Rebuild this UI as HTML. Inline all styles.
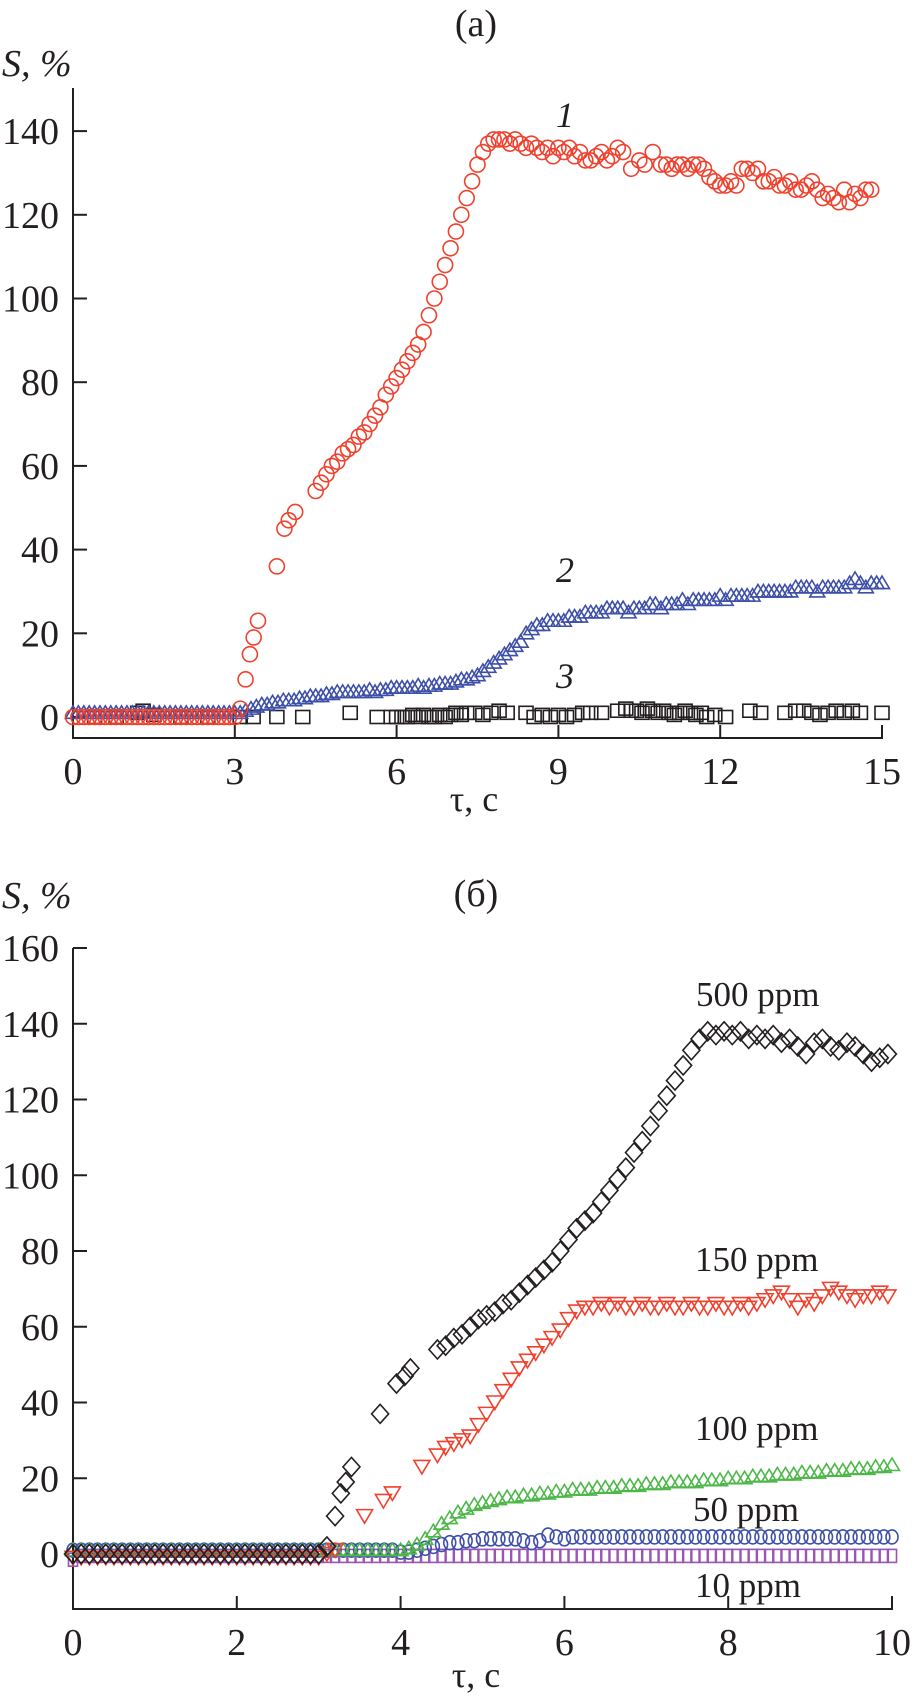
<!DOCTYPE html>
<html><head><meta charset="utf-8"><style>
html,body{margin:0;padding:0;background:#fff;}
svg{display:block;}
text{font-family:"Liberation Serif",serif;fill:#231f20;}
</style></head><body>
<svg id="fig" width="912" height="1698" viewBox="0 0 912 1698" xmlns="http://www.w3.org/2000/svg">
<text x="476" y="36" font-size="38" text-anchor="middle">(a)</text>
<text x="2" y="76" font-size="38" font-style="italic">S, %</text>
<text x="474" y="811" font-size="36" text-anchor="middle">τ, c</text>
<text x="565" y="127" font-size="36" font-style="italic" text-anchor="middle">1</text>
<text x="565" y="582" font-size="36" font-style="italic" text-anchor="middle">2</text>
<text x="565" y="688" font-size="36" font-style="italic" text-anchor="middle">3</text>
<text x="476" y="906" font-size="38" text-anchor="middle">(б)</text>
<text x="2" y="908" font-size="38" font-style="italic">S, %</text>
<text x="476" y="1687" font-size="36" text-anchor="middle">τ, c</text>
<text x="696" y="1006" font-size="35">500 ppm</text>
<text x="695" y="1271" font-size="35">150 ppm</text>
<text x="695" y="1440" font-size="35">100 ppm</text>
<text x="693" y="1521" font-size="35">50 ppm</text>
<text x="695" y="1597" font-size="35">10 ppm</text>
<g id="a"></g><g id="b"></g>
</svg>
<script>
// ---------- Panel (a) data ----------
const aXTicks = [0, 3, 6, 9, 12, 15];
const aYTicks = [0, 20, 40, 60, 80, 100, 120, 140];
const s1x = [0,0.1,0.2,0.3,0.4,0.5,0.6,0.7,0.8,0.9,1.0,1.1,1.2,1.3,1.4,1.5,1.6,1.7,1.8,1.9,2.0,2.1,2.2,2.3,2.4,2.5,2.6,2.7,2.8,2.9,3.0,
3.1,3.2,3.28,3.35,3.43,3.78,3.92,4.0,4.12,4.5,4.6,4.7,4.8,4.9,5.0,5.1,5.2,5.3,5.4,5.5,5.6,5.7,5.8,5.9,6.0,6.1,6.2,6.3,6.4,6.5,6.6,6.7,6.8,6.9,7.0,7.1,7.2,7.3,7.4,7.5,7.6,7.7,7.8,7.9,8.0,8.1,8.2,8.3,8.4,8.5,8.6,8.7,8.8,8.9,9.0,9.1,9.2,9.3,9.4,9.5,9.6,9.7,9.8,9.9,10.0,10.1,10.2,10.35,10.5,10.6,10.75,10.9,11.0,11.1,11.2,11.3,11.4,11.5,11.6,11.7,11.8,11.9,12.0,12.1,12.2,12.3,12.4,12.5,12.6,12.7,12.8,12.9,13.0,13.1,13.2,13.3,13.4,13.5,13.6,13.7,13.8,13.9,14.0,14.1,14.2,14.3,14.4,14.5,14.6,14.7,14.8];
const s1y = [0,0,0,0,0,0,0,0,0,0,0,0,0,0,0,0,0,0,0,0,0,0,0,0,0,0,0,0,0,0,0,
2,9,15,19,23,36,45,47,49,54,56,58,60,61,63,64,65,67,68,70,72,74,77,79,81,83,85,87,89,92,96,100,104,108,112,116,120,124,128,132,135,137,138,138,138,137,138,137,136,137,136,135,136,134,136,135,136,134,135,133,133,134,135,133,134,136,135,131,133,132,135,132,132,131,132,132,131,132,132,131,129,128,127,127,128,127,131,131,130,131,128,128,129,127,127,128,126,126,127,128,126,124,125,124,123,126,123,125,124,126,126];
const s2y = [1,1,1,1,1,1,1,1,1,1,1,1,1,1,1,1,1,1,1,1,1,1,1,1,1,1,1,1,1,1,1,
1,1.5,2,2.5,3,3,3.5,3.5,4,4,
4,4.5,4.5,5,5,5,5.5,5.5,6,6,
6,6,6,6,6.5,6,6.5,6.5,7,7,
7,7,7,7.5,7,7.5,7.5,8,8,8,
8.5,9,9,9.5,10,11,12,13,14,15,
16,17,18,20,21,22,22,23,23,23,
23,24,24,24,25,25,25,25,26,26,
26,26,25,26,26,26,27,27,26,27,
27,27,28,27,28,28,28,28,28,29,
28,29,29,29,29,29,30,30,30,30,
30,30,30,31,31,31,31,30,31,31,
31,31,31,32,33,32,31,32,32,32];
const s3x = [0.4,0.8,1.2,1.3,1.5,2.0,2.5,3.1,3.34,3.78,4.26,5.14,5.64,5.9,6.0,6.1,6.2,6.3,6.4,6.5,6.6,6.7,6.8,6.9,7.0,7.1,7.2,7.3,7.45,7.6,7.75,7.9,8.05,8.4,8.55,8.7,8.85,9.0,9.15,9.3,9.45,9.6,9.8,10.1,10.25,10.35,10.45,10.55,10.65,10.75,10.85,10.95,11.05,11.15,11.25,11.35,11.45,11.55,11.65,11.75,11.9,12.1,12.55,12.75,13.2,13.4,13.55,13.7,13.85,14.0,14.15,14.3,14.45,14.6,15.0];
const s3y = [0,0,1,1.5,0.5,0,0,0,0,0,0,1,0,0,0,0,0,0.5,0,0.5,0,0,0.5,0,0.5,1,0.5,1,1,0.5,1,1.5,1,1,0,0.5,0,0.5,0,0.5,1,1,1,1.5,2,1.5,1.5,1,2,1.5,1,1.5,1,0.5,1,1.5,1,0.5,1,0,0.5,0,1.5,1,1,1.5,1.5,1,0.5,1,1.5,1,1.5,1,1];

// ---------- Panel (b) data ----------
const bXTicks = [0, 2, 4, 6, 8, 10];
const bYTicks = [0, 20, 40, 60, 80, 100, 120, 140, 160];
const p500x = [0,0.1,0.2,0.3,0.4,0.5,0.6,0.7,0.8,0.9,1.0,1.1,1.2,1.3,1.4,1.5,1.6,1.7,1.8,1.9,2.0,2.1,2.2,2.3,2.4,2.5,2.6,2.7,2.8,2.9,3.0,
3.1,3.2,3.27,3.33,3.4,3.75,3.95,4.05,4.12,4.45,4.55,4.65,4.75,4.85,4.95,5.05,5.15,5.25,5.35,5.45,5.55,5.65,5.75,5.85,5.95,6.05,6.15,6.25,6.35,6.45,6.55,6.65,6.75,6.85,6.95,7.05,7.15,7.25,7.35,7.45,7.55,7.65,7.75,7.85,7.95,8.05,8.15,8.25,8.35,8.45,8.55,8.65,8.75,8.85,8.95,9.05,9.15,9.25,9.35,9.45,9.55,9.65,9.75,9.85,9.95];
const p500y = [0,0,0,0,0,0,0,0,0,0,0,0,0,0,0,0,0,0,0,0,0,0,0,0,0,0,0,0,0,0,0,
2,10,16,19,23,37,45,47,49,54,55,57,58,60,62,63,64,66,67,69,71,73,75,77,80,83,86,88,90,93,96,99,102,106,109,113,117,121,125,129,133,136,138,137,138,137,138,136,137,136,137,135,136,134,132,135,136,134,133,135,134,132,130,131,132,134,133];
const p150x = [0,0.1,0.2,0.3,0.4,0.5,0.6,0.7,0.8,0.9,1.0,1.1,1.2,1.3,1.4,1.5,1.6,1.7,1.8,1.9,2.0,2.1,2.2,2.3,2.4,2.5,2.6,2.7,2.8,2.9,3.0,3.1,3.2,
3.56,3.79,3.9,4.26,4.45,4.55,4.65,4.75,4.85,4.95,5.05,5.15,5.25,5.35,5.45,5.55,5.65,5.75,5.85,5.95,6.05,6.15,6.25,6.35,6.45,6.55,6.65,6.75,6.85,6.95,7.05,7.15,7.25,7.35,7.45,7.55,7.65,7.75,7.85,7.95,8.05,8.15,8.25,8.35,8.45,8.55,8.65,8.75,8.85,8.95,9.05,9.15,9.25,9.35,9.45,9.55,9.65,9.75,9.85,9.95];
const p150y = [-1,-1,-1,-1,-1,-1,-1,-1,-1,-1,-1,-1,-1,-1,-1,-1,-1,-1,-1,-1,-1,-1,-1,-1,-1,-1,-1,-1,-1,-1,-1,0,1,
10,14,16,23,26,28,29,30,31,34,37,40,43,46,49,51,53,55,57,59,62,64,65,65,66,65,66,65,65,66,65,65,66,65,65,66,65,65,66,65,65,66,65,66,67,68,69,67,65,67,66,68,70,69,68,67,68,68,69,68];
const p100y = [1,1,1,1,1,1,1,1,1,1,1,1,1,1,1,1,1,1,1,1,1,1,1,1,1,1,1,1,1,1,1,1,1,1,1,1,1,1,1,1,1,
1.5,2.5,4,6,8,9.5,11,12,13,13.5,
14,14.5,15,15,15.5,15.5,16,16,16.5,16.5,
17,17,17,17.5,17.5,17.5,18,18,18,18.5,
18.5,18.5,19,19,19,19,19.5,19.5,19.5,20,
20,20,20.5,20.5,20.5,21,21,21,21.5,21.5,
21.5,22,22,22,22.5,22.5,22.5,23,23,23.5];
const p50y = [1,1,1,1,1,1,1,1,1,1,1,1,1,1,1,1,1,1,1,1,1,1,1,1,1,1,1,1,1,1,1,1,1,1,1,1,1,1,1,1,0.5,
0.5,1,1.5,2,2.5,3,3,3.5,3.5,4,
4,4,4,4,3.5,3,3.5,5,4.5,4,
4.5,4.5,4.5,4.5,4.5,4.5,4.5,4.5,4.5,4.5,
4.5,4.5,4.5,4.5,4.5,4.5,4.5,4.5,4.5,4.5,
4.5,4.5,4.5,4.5,4.5,4.5,4.5,4.5,4.5,4.5,
4.5,4.5,4.5,4.5,4.5,4.5,4.5,4.5,4.5,4.5];
const p10y = [-1.5,-0.5,-0.5,-0.5,-0.5,-0.5,-0.5,-0.5,-0.5,-0.5,-0.5,-0.5,-0.5,-0.5,-0.5,-0.5,-0.5,-0.5,-0.5,-0.5,-0.5,-0.5,-0.5,-0.5,-0.5,-0.5,-0.5,-0.5,-0.5,-0.5,-0.5,-0.5,-0.5,-0.5,-0.5,-0.5,-0.5,-0.5,-0.5,-0.5,-0.5,
-0.5,-0.5,-0.5,-0.5,-0.5,-0.5,-0.5,-0.5,-0.5,-0.5,-0.5,-0.5,-0.5,-0.5,-0.5,-0.5,-0.5,-0.5,-0.5,-0.5,-0.5,-0.5,-0.5,-0.5,-0.5,-0.5,-0.5,-0.5,-0.5,-0.5,
-0.5,-0.5,-0.5,-0.5,-0.5,-0.5,-0.5,-0.5,-0.5,-0.5,-0.5,-0.5,-0.5,-0.5,-0.5,-0.5,-0.5,-0.5,-0.5,-0.5,-0.5,-0.5,-0.5,-0.5,-0.5,-0.5,-0.5,-0.5,-0.5,-0.5];

const NS = 'http://www.w3.org/2000/svg';
function mk(tag, attrs, parent) {
  const e = document.createElementNS(NS, tag);
  for (const k in attrs) e.setAttribute(k, attrs[k]);
  parent.appendChild(e);
  return e;
}
function grid(n, step) { const r = []; for (let i = 0; i < n; i++) r.push(+(i * step).toFixed(2)); return r; }

const axA = { x0: 73, xmax: 15, x1: 882, y0: 717, yPer: 83.7 / 20, axisY: 738, top: 88 };
const axB = { x0: 73, xmax: 10, x1: 892, y0: 1554, yPer: 75.75 / 20, axisY: 1609, top: 948 };
function sx(ax, v) { return ax.x0 + v * (ax.x1 - ax.x0) / ax.xmax; }
function sy(ax, v) { return ax.y0 - v * ax.yPer; }

function drawAxes(ax, g, xt, yt, labelBase, pfx) {
  const yl = mk('line', { x1: ax.x0, y1: ax.top, x2: ax.x0, y2: ax.axisY + 1, stroke: '#231f20', 'stroke-width': 2 }, g);
  
  
  const xl = mk('line', { x1: ax.x0 - 1, y1: ax.axisY, x2: ax.x1 + 1, y2: ax.axisY, stroke: '#231f20', 'stroke-width': 2 }, g);
  
  
  xt.forEach(v => {
    const x = sx(ax, v);
    if (v > 0) {
      const t = mk('line', { x1: x, y1: ax.axisY, x2: x, y2: ax.axisY - 13, stroke: '#231f20', 'stroke-width': 2 }, g);
      
      
    }
    const lb = mk('text', { x: x, y: labelBase, 'font-size': 38, 'text-anchor': 'middle' }, g);
    lb.textContent = v;
    
    
  });
  yt.forEach(v => {
    const y = sy(ax, v);
    const t = mk('line', { x1: ax.x0, y1: y, x2: ax.x0 + 14, y2: y, stroke: '#231f20', 'stroke-width': 2 }, g);
    
    
    const lb = mk('text', { x: 59, y: y + 13, 'font-size': 38, 'text-anchor': 'end' }, g);
    lb.textContent = v;
    
    
  });
}

function marker(shape, x, y, color, g, name) {
  let e;
  const base = { fill: 'none', stroke: color, 'stroke-width': 1.6 };
  if (shape === 'circle') e = mk('circle', Object.assign({ cx: x, cy: y, r: 7.5 }, base), g);
  else if (shape === 'ellipse') e = mk('ellipse', Object.assign({ cx: x, cy: y, rx: 6, ry: 7 }, base), g);
  else if (shape === 'tri') e = mk('polygon', Object.assign({ points: `${x - 7.5},${y + 5.5} ${x + 7.5},${y + 5.5} ${x},${y - 7}` }, base), g);
  else if (shape === 'tridown') e = mk('polygon', Object.assign({ points: `${x - 8},${y - 6.5} ${x + 8},${y - 6.5} ${x},${y + 7}` }, base), g);
  else if (shape === 'square') e = mk('rect', Object.assign({ x: x - 7, y: y - 6.5, width: 14, height: 13 }, base), g);
  else if (shape === 'rectsm') e = mk('rect', Object.assign({ x: x - 4.5, y: y - 6.5, width: 9, height: 13 }, base), g);
  else if (shape === 'diamond') e = mk('polygon', Object.assign({ points: `${x},${y - 9.5} ${x + 8.5},${y} ${x},${y + 9.5} ${x - 8.5},${y}` }, base), g);
  
  
}

function series(ax, g, xs, ys, shape, color, name) {
  const sg = mk('g', {}, g);
  
  
  for (let i = 0; i < ys.length; i++) marker(shape, sx(ax, xs[i]), sy(ax, ys[i]), color, sg, name + '-point');
}

const ga = document.getElementById('a');


drawAxes(axA, ga, aXTicks, aYTicks, 784, 'panel-a');
const tA = grid(s2y.length, 0.1);
series(axA, ga, s3x, s3y, 'square', '#231f20', 'curve-3');
series(axA, ga, tA, s2y, 'tri', '#3d4fa8', 'curve-2');
series(axA, ga, s1x, s1y, 'circle', '#f0412e', 'curve-1');

const gb = document.getElementById('b');


drawAxes(axB, gb, bXTicks, bYTicks, 1655, 'panel-b');
const tB = grid(p100y.length, 0.1);
series(axB, gb, tB, p10y, 'rectsm', '#9a55b3', 'ppm10');
series(axB, gb, tB, p50y, 'ellipse', '#3d4fa8', 'ppm50');
const pts = tB.map((t, i) => `${sx(axB, t)},${sy(axB, p100y[i]) + 5}`).join(' ');
const gl = mk('polyline', { points: pts, fill: 'none', stroke: '#4db848', 'stroke-width': 1.6 }, gb);


series(axB, gb, tB, p100y, 'tri', '#4db848', 'ppm100');
series(axB, gb, p150x, p150y, 'tridown', '#f0412e', 'ppm150');
series(axB, gb, p500x, p500y, 'diamond', '#231f20', 'ppm500');
</script>
</body></html>
